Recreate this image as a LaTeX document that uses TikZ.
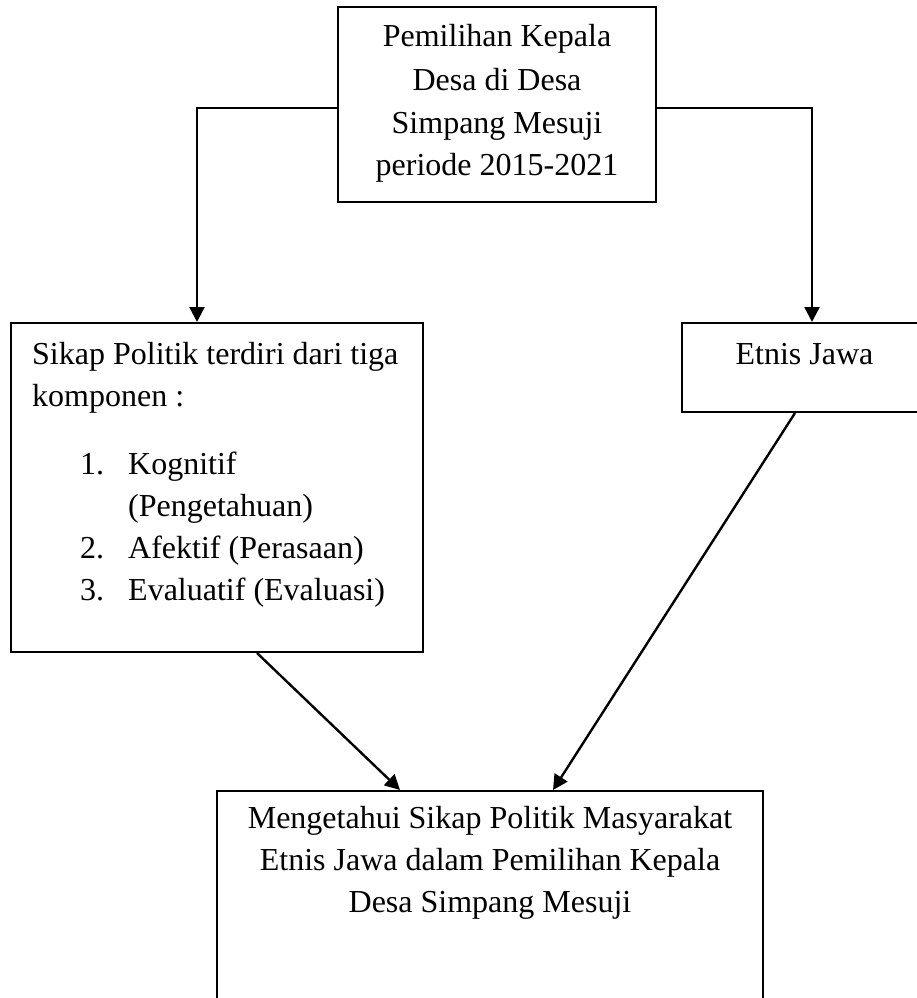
\documentclass[tikz,border=0pt]{standalone}
\usepackage{fontspec}
\setmainfont{Liberation Serif}
\usetikzlibrary{arrows.meta}
\begin{document}
\begin{tikzpicture}[x=1pt,y=-1pt,
  box/.style={draw, line width=2pt, inner sep=0pt},
  txt/.style={font=\fontsize{32}{42.5}\selectfont, inner sep=0pt},
  arr/.style={line width=2.4pt, -{Triangle[length=15pt,width=15pt]}}]
\useasboundingbox (0,0) rectangle (916,998);
% boxes
\node[box, minimum width=318pt, minimum height=195pt] (top) at (497,104.5) {};
\node[box, minimum width=412pt, minimum height=329pt] (sikap) at (217,487.5) {};
\node[box, minimum width=260pt, minimum height=89pt] (etnis) at (812,367.5) {};
\node[box, minimum width=546pt, minimum height=219pt] (hasil) at (490,900.5) {};
% top text
\node[txt, anchor=base] (t1) at (497,47) {Pemilihan Kepala};
\node[txt, anchor=base] (t2) at (497,90) {Desa di Desa};
\node[txt, anchor=base] (t3) at (497,133) {Simpang Mesuji};
\node[txt, anchor=base] (t4) at (497,175) {periode 2015-2021};
% sikap text
\node[txt, anchor=base west] (s1) at (32,364) {Sikap Politik terdiri dari tiga};
\node[txt, anchor=base west] (s2) at (32,406) {komponen :};
\node[txt, anchor=base west] (n1) at (80,474) {1.};
\node[txt, anchor=base west] (l1) at (128,474) {Kognitif};
\node[txt, anchor=base west] (l1b) at (128,516) {(Pengetahuan)};
\node[txt, anchor=base west] (n2) at (80,558) {2.};
\node[txt, anchor=base west] (l2) at (128,558) {Afektif (Perasaan)};
\node[txt, anchor=base west] (n3) at (80,600) {3.};
\node[txt, anchor=base west] (l3) at (128,600) {Evaluatif (Evaluasi)};
% etnis text
\node[txt, anchor=base] (e1) at (804.5,364) {Etnis Jawa};
% hasil text
\node[txt, anchor=base] (h1) at (490,828) {Mengetahui Sikap Politik Masyarakat};
\node[txt, anchor=base] (h2) at (490,870) {Etnis Jawa dalam Pemilihan Kepala};
\node[txt, anchor=base] (h3) at (490,912) {Desa Simpang Mesuji};
% connectors
\draw[arr] ([yshift=-3.5pt]top.west) -| ([xshift=-20pt]sikap.north);
\draw[arr] ([yshift=-3.5pt]top.east) -| (etnis.north);
\draw[arr] ([xshift=40pt]sikap.south) -- ([xshift=-90pt]hasil.north);
\draw[arr] ([xshift=-17pt]etnis.south) -- ([xshift=63pt]hasil.north);
\end{tikzpicture}
\end{document}
